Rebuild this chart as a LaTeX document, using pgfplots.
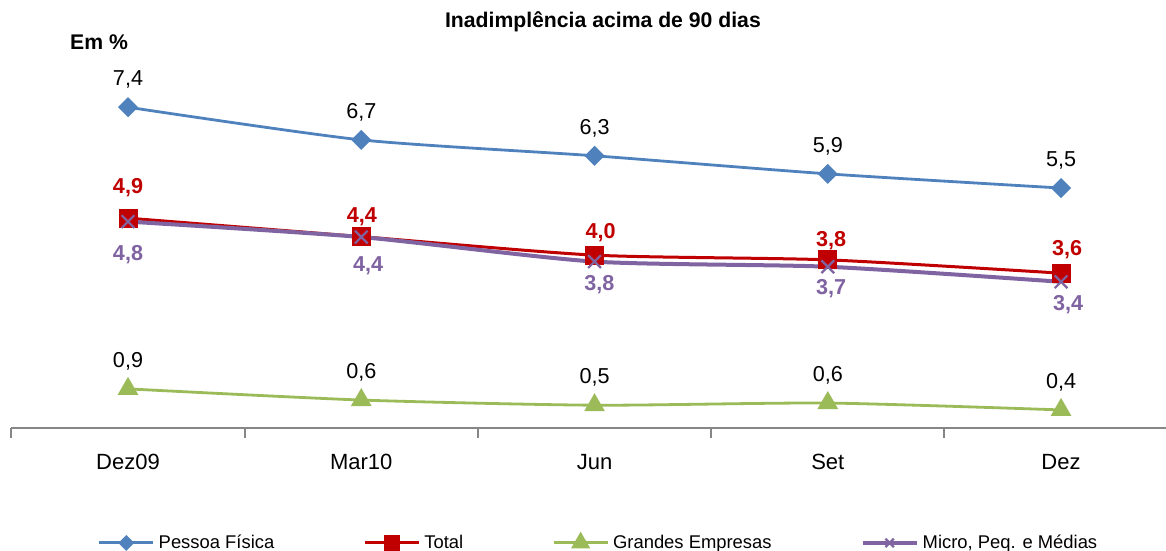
\documentclass[border=0pt]{standalone}
\usepackage{fontspec}
\setmainfont{Liberation Sans}
\usepackage{pgfplots}
\usepackage{pgfplotstable}
\pgfplotsset{compat=1.18}
\definecolor{cPF}{HTML}{4F81BD}
\definecolor{cTot}{HTML}{C00000}
\definecolor{cGE}{HTML}{9BBB59}
\definecolor{cMi}{HTML}{8064A2}
\definecolor{cAx}{HTML}{868686}
\pgfplotstableread{
x pf pfl tot ge gel mi
0 7.46 {7,4} 4.88 0.91 {0,9} 4.80
1 6.70 {6,7} 4.45 0.65 {0,6} 4.44
2 6.33 {6,3} 4.02 0.53 {0,5} 3.87
3 5.91 {5,9} 3.91 0.58 {0,6} 3.75
4 5.58 {5,5} 3.60 0.42 {0,4} 3.40
}\data
\pgfplotstableread{
x y l
0 5.442 {4,9}
1.003 4.784 {4,4}
2.026 4.412 {4,0}
3.014 4.216 {3,8}
4.026 4.023 {3,6}
}\totlab
\pgfplotstableread{
x y l
0 3.891 {4,8}
1.029 3.635 {4,4}
2.021 3.193 {3,8}
3.014 3.116 {3,7}
4.030 2.744 {3,4}
}\milab
\begin{document}
\begin{tikzpicture}
\begin{axis}[
  anchor=origin, at={(0,0)},
  x=116.625pt, y=21.5pt,
  xmin=-0.5, xmax=4.45, ymin=0, ymax=8,
  clip=false,
  axis x line*=bottom, axis y line=none,
  x axis line style={cAx, line width=1pt},
  xtick={0,1,2,3,4},
  xticklabels={Dez09,Mar10,Jun,Set,Dez},
  major tick length=0pt,
  minor xtick={-0.5,0.5,1.5,2.5,3.5},
  minor tick length=5pt,
  tick align=outside,
  every tick/.style={cAx, line width=1pt},
  xticklabel style={anchor=base, yshift=-20.75pt, font=\fontsize{11}{13}\selectfont},
  point meta=explicit symbolic,
  every node near coord/.append style={anchor=base, yshift=10.75pt, font=\fontsize{10.8}{12}\selectfont, text=black},
  legend columns=4,
  legend style={draw=none, fill=none, at={(0.5094,-0.334)}, anchor=center,
    font=\fontsize{9.2}{11}\selectfont,
    /tikz/every even column/.append style={column sep=42.5pt}},
  legend image code/.code={\draw[mark repeat=2,mark phase=2] plot coordinates {(0cm,0cm) (0.475cm,0cm) (0.95cm,0cm)};},
]
\addplot[cPF, line width=1.4pt, smooth, tension=0.4, mark=square*, mark size=2.85pt, mark options={fill=cPF, rotate=45},
  nodes near coords, legend image post style={mark size=2.1pt}]
  table[x=x, y=pf, meta=pfl] {\data};
\addlegendentry{Pessoa Física}
\addplot[cTot, line width=1.5pt, smooth, tension=0.4, mark=square*, mark size=4pt, mark options={fill=cTot},
  legend image post style={mark size=3.3pt}]
  table[x=x, y=tot] {\data};
\addlegendentry{Total}
\addplot[cGE, line width=1.4pt, smooth, tension=0.4, mark=triangle*, mark size=4.6pt, mark options={fill=cGE},
  nodes near coords, legend image post style={mark size=4.2pt}]
  table[x=x, y=ge, meta=gel] {\data};
\addlegendentry{Grandes Empresas}
\addplot[cMi, line width=2pt, smooth, tension=0.4, mark=x, mark size=4.5pt, mark options={line width=1.1pt},
  legend image post style={mark size=3pt}]
  table[x=x, y=mi] {\data};
\addlegendentry{Micro, Peq. e Médias}
\addplot[draw=none, mark=none, forget plot, nodes near coords,
  every node near coord/.append style={yshift=-10.75pt, text=cTot, font=\bfseries\fontsize{10.8}{12}\selectfont}]
  table[x=x, y=y, meta=l] {\totlab};
\addplot[draw=none, mark=none, forget plot, nodes near coords,
  every node near coord/.append style={yshift=-10.75pt, text=cMi, font=\bfseries\fontsize{10.8}{12}\selectfont}]
  table[x=x, y=y, meta=l] {\milab};
\node[font=\bfseries\fontsize{10.6}{12}\selectfont] at (axis cs:2.036,9.44) {Inadimplência acima de 90 dias};
\node[font=\bfseries\fontsize{10.6}{12}\selectfont] at (axis cs:-0.124,8.98) {Em \%};
\coordinate (bl) at (axis cs:-0.5488,-2.860);
\coordinate (tr) at (axis cs:4.450,9.953);
\end{axis}
\pgfresetboundingbox
\path[use as bounding box] (bl) rectangle (tr);
\end{tikzpicture}
\end{document}
